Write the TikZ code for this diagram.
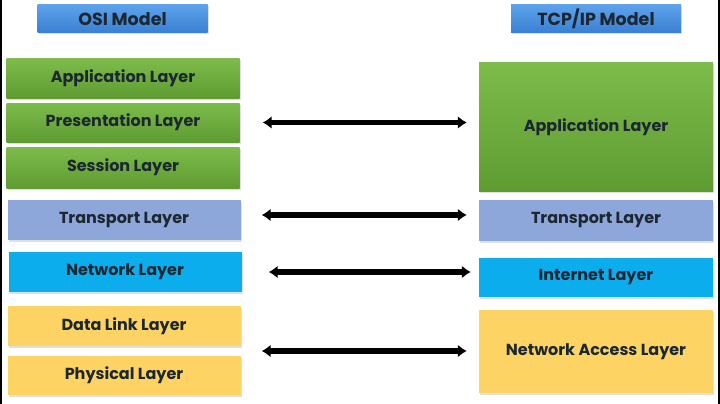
\documentclass[tikz,border=0pt]{standalone}
\usepackage{fontspec}
\setmainfont{Poppins}
\usetikzlibrary{arrows.meta,shadows,calc}
\definecolor{hdrtop}{HTML}{5CA2EC}
\definecolor{hdrbot}{HTML}{3A80D2}
\definecolor{grtop}{HTML}{7DBB4B}
\definecolor{grbot}{HTML}{5E9C32}
\definecolor{transblue}{HTML}{8EA7DA}
\definecolor{netblue}{HTML}{0CADEC}
\definecolor{linkyellow}{HTML}{FDD463}
\definecolor{txtdark}{HTML}{1C2731}
\tikzset{
  layer/.style={inner sep=0pt, minimum width=233pt, minimum height=40pt,
    font=\fontsize{16}{18}\selectfont\bfseries, text=txtdark,
    drop shadow={opacity=0.25, shadow xshift=1pt, shadow yshift=-1.5pt}},
  header/.style={layer, minimum width=170pt, minimum height=28pt,
    font=\fontsize{17.5}{19}\selectfont\bfseries,
    top color=hdrtop, bottom color=hdrbot},
  greenbox/.style={layer, top color=grtop, bottom color=grbot},
  link/.style={line width=5.5pt, {Latex[length=9pt,width=13pt]}-{Latex[length=9pt,width=13pt]}}
}
\begin{document}
\begin{tikzpicture}[x=1pt,y=-1pt]
  \useasboundingbox (0,0) rectangle (720,404);
  \fill[white] (0,0) rectangle (720,404);
  \fill[black] (0,0) rectangle (2,404);
  \fill[black] (718,0) rectangle (720,404);
  % headers
  \node[header] (osi) at (122.5,19) {OSI Model};
  \node[header] (tcp) at (596,19) {TCP/IP Model};
  % OSI layers
  \node[greenbox, minimum height=39pt] (app) at (123,78.5) {Application Layer};
  \node[greenbox, minimum height=39pt] (pres) at (123,122.5) {Presentation Layer};
  \node[greenbox, minimum height=41pt] (ses) at (123,167.5) {Session Layer};
  \node[layer, fill=transblue] (otrans) at (124,220) {Transport Layer};
  \node[layer, fill=netblue] (onet) at (125,272) {Network Layer};
  \node[layer, fill=linkyellow] (dlink) at (124,326) {Data Link Layer};
  \node[layer, fill=linkyellow, minimum height=39pt] (phys) at (124,375.5) {Physical Layer};
  % TCP/IP layers
  \node[greenbox, minimum width=234pt, minimum height=128pt] (tapp) at (596,127) {Application Layer};
  \node[layer, fill=transblue, minimum width=234pt, minimum height=41pt] (ttrans) at (596,220.5) {Transport Layer};
  \node[layer, fill=netblue, minimum width=234pt, minimum height=39pt] (inet) at (596,277.5) {Internet Layer};
  \node[layer, fill=linkyellow, minimum width=234pt, minimum height=83pt] (tnac) at (596,351.5) {Network Access Layer};
  % mappings
  \draw[link, shorten <=23pt, shorten >=12pt] (pres.east) -- (pres.east -| tapp.west);
  \draw[link, shorten <=21pt, shorten >=12pt] ([yshift=5pt]otrans.east) -- ([yshift=5pt]otrans.east -| ttrans.west);
  \draw[link, shorten <=27pt, shorten >=8pt] (onet.east) -- (onet.east -| inet.west);
  \coordinate (low) at ($(dlink.south east)!0.5!(phys.north east)$);
  \draw[link, shorten <=21pt, shorten >=12pt] (low) -- (low -| tnac.west);
\end{tikzpicture}
\end{document}
